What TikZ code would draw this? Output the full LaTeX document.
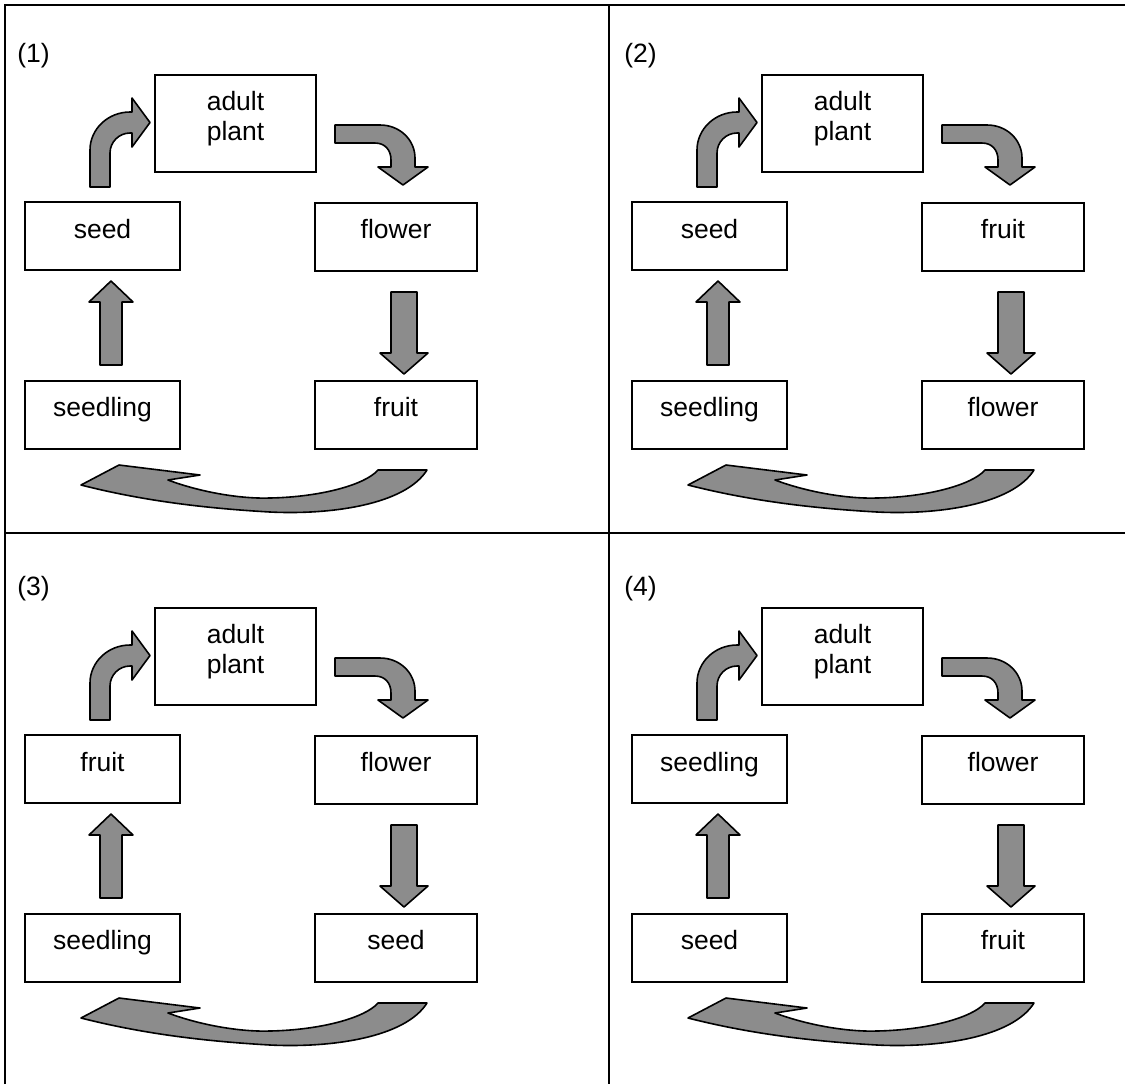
\documentclass[tikz,border=0pt]{standalone}
\usepackage{fontspec}
\setmainfont{Liberation Sans}
\newcommand\lifecycle[7]{%
  \begin{scope}[shift={(#1,#2)}]
    \node[tag] (p#3-tag) at (17,62) {(#3)};
    \node[abox] (p#3-a) at (235.5,123.5) {adult\\plant};
    \node[lbox] (p#3-tl) at (102.5,236) {#4};
    \node[rbox] (p#3-tr) at (396,236.5) {#5};
    \node[lbox] (p#3-bl) at (102.5,414.5) {#6};
    \node[rbox] (p#3-br) at (396,414.5) {#7};
    % bent arrow: left box -> adult plant
    \path[blockarrow] (90,187) -- (90,150) .. controls (90,129) and (108,112) .. (130,112)
      -- (132,112) -- (132,98) -- (150,122.5) -- (132,147) -- (132,133) -- (130,133)
      .. controls (119,133) and (110,142) .. (110,153) -- (110,187) -- cycle;
    % bent arrow: adult plant -> right box
    \path[blockarrow] (335,125) -- (380,125) .. controls (400,125) and (415,140) .. (415,158)
      -- (415,167) -- (428,167) -- (403,185) -- (378,167) -- (391,167) -- (391,160)
      .. controls (391,150) and (385,143) .. (375,143) -- (335,143) -- cycle;
    % up arrow
    \path[blockarrow] (100,365) -- (100,302) -- (89,302) -- (111,281) -- (133,302)
      -- (122,302) -- (122,365) -- cycle;
    % down arrow
    \path[blockarrow] (391,292) -- (417,292) -- (417,353) -- (428,353) -- (404,374)
      -- (380,353) -- (391,353) -- cycle;
    % curved bottom arrow
    \path[blockarrow] (427,470) .. controls (405,505) and (330,515) .. (270,512)
      .. controls (200,508) and (140,500) .. (81,485) -- (119,465) -- (200,475) -- (168,480)
      .. controls (200,492) and (240,499) .. (270,498)
      .. controls (320,497) and (365,485) .. (378,470) -- cycle;
  \end{scope}}
\begin{document}
\begin{tikzpicture}[x=0.5pt,y=-0.5pt,
  frame/.style={line width=1pt},
  box/.style={draw,line width=1pt,inner sep=0pt,text height=9pt,text depth=7pt,
    font=\fontsize{13.25}{15}\selectfont},
  lbox/.style={box,minimum width=77.5pt,minimum height=34pt},
  rbox/.style={box,minimum width=81pt,minimum height=34pt},
  abox/.style={draw,line width=1pt,inner sep=0pt,minimum width=80.5pt,minimum height=48.5pt,
    align=center,text depth=8pt,font=\fontsize{13.25}{15}\selectfont},
  blockarrow/.style={draw,line width=0.8pt,fill=black!45,line join=round},
  tag/.style={anchor=base west,inner sep=0pt,font=\fontsize{13.25}{15}\selectfont}]
  \useasboundingbox (0,0) rectangle (1125,1084);
  \fill[white] (0,0) rectangle (1125,1084);
  \draw[frame] (5,1084) -- (5,5) -- (1125,5);
  \draw[frame] (609,5) -- (609,1084);
  \draw[frame] (5,533) -- (1125,533);
  \lifecycle{0}{0}{1}{seed}{flower}{seedling}{fruit}
  \lifecycle{607}{0}{2}{seed}{fruit}{seedling}{flower}
  \lifecycle{0}{533}{3}{fruit}{flower}{seedling}{seed}
  \lifecycle{607}{533}{4}{seedling}{flower}{seed}{fruit}
\end{tikzpicture}
\end{document}
